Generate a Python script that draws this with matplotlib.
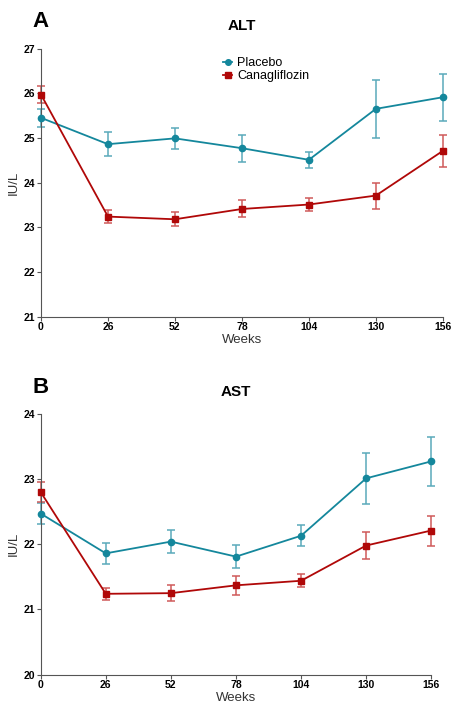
import numpy as np
import matplotlib.pyplot as plt

plt.rcParams['font.family'] = ['Liberation Sans', 'DejaVu Sans']

weeks = [0, 26, 52, 78, 104, 130, 156]

# ALT (IU/L)
alt_placebo = [25.45, 24.86, 24.99, 24.77, 24.51, 25.65, 25.91]
alt_placebo_err = [0.20, 0.27, 0.23, 0.30, 0.18, 0.65, 0.53]
alt_cana = [25.97, 23.24, 23.18, 23.41, 23.51, 23.71, 24.71]
alt_cana_err = [0.19, 0.14, 0.16, 0.19, 0.15, 0.29, 0.35]

# AST (IU/L)
ast_placebo = [22.47, 21.86, 22.04, 21.81, 22.13, 23.01, 23.27]
ast_placebo_err = [0.16, 0.16, 0.18, 0.18, 0.16, 0.39, 0.38]
ast_cana = [22.80, 21.24, 21.25, 21.37, 21.44, 21.98, 22.21]
ast_cana_err = [0.16, 0.09, 0.12, 0.15, 0.10, 0.20, 0.23]

teal = '#14879c'
teal_err = '#5aaabb'
red = '#b00808'
red_err = '#cf5a5a'

fig = plt.figure(figsize=(4.51, 7.04), dpi=100)
ax1 = fig.add_axes([0.0909, 0.5501, 0.891, 0.381])
ax2 = fig.add_axes([0.0902, 0.0416, 0.866, 0.3707])


def draw_panel(ax, pl, pl_err, ca, ca_err, ylim, yticks):
    # error bars first, lighter colour
    ax.errorbar(weeks, pl, yerr=pl_err, fmt='none', ecolor=teal_err, elinewidth=1.1,
                capsize=3, capthick=1.1, zorder=2, clip_on=False)
    ax.errorbar(weeks, ca, yerr=ca_err, fmt='none', ecolor=red_err, elinewidth=1.1,
                capsize=3, capthick=1.1, zorder=2, clip_on=False)
    ax.plot(weeks, pl, color=teal, marker='o', markersize=4.5, linewidth=1.3,
            label='Placebo', zorder=3, clip_on=False)
    ax.plot(weeks, ca, color=red, marker='s', markersize=4.5, linewidth=1.3,
            label='Canagliflozin', zorder=3, clip_on=False)
    ax.set_xlim(0, 156)
    ax.set_ylim(*ylim)
    ax.set_xticks(weeks)
    ax.set_yticks(yticks)
    for lab in ax.get_xticklabels() + ax.get_yticklabels():
        lab.set_fontweight('bold')
        lab.set_fontsize(7.5)
    ax.tick_params(axis='both', length=3, width=0.8, color='#555555', pad=1)
    ax.spines['top'].set_visible(False)
    ax.spines['right'].set_visible(False)
    ax.spines['left'].set_color('#555555')
    ax.spines['bottom'].set_color('#555555')
    ax.set_xlabel('Weeks', fontsize=9.5, color='#333333', labelpad=1)
    ax.set_ylabel('IU/L', fontsize=9.5, color='#333333', labelpad=3)


draw_panel(ax1, alt_placebo, alt_placebo_err, alt_cana, alt_cana_err, (21, 27), range(21, 28))
draw_panel(ax2, ast_placebo, ast_placebo_err, ast_cana, ast_cana_err, (20, 24), range(20, 25))

ax1.legend(loc='upper left', bbox_to_anchor=(0.435, 0.995), frameon=False, fontsize=9,
           handlelength=0.7, handletextpad=0.4, labelspacing=0.05, borderaxespad=0.2,
           markerscale=0.9)

fig.text(0.073, 0.970, 'A', fontsize=16, fontweight='bold', va='center', ha='left')
fig.text(0.537, 0.963, 'ALT', fontsize=11, fontweight='bold', va='center', ha='center')
fig.text(0.073, 0.450, 'B', fontsize=16, fontweight='bold', va='center', ha='left')
fig.text(0.522, 0.443, 'AST', fontsize=11, fontweight='bold', va='center', ha='center')

fig.savefig('out.png', dpi=100)
